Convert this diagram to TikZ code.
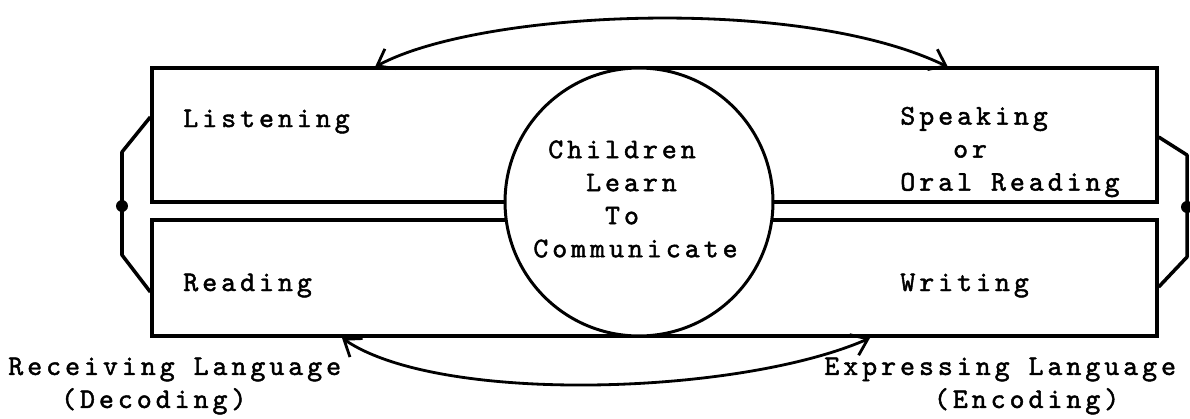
\documentclass[tikz,border=0pt]{standalone}
\usepackage{fontspec}
\usetikzlibrary{arrows.meta,calc}
\newfontfamily\tw[LetterSpace=14,FakeBold=1.6]{lmmono10-regular.otf}
\begin{document}
\begin{tikzpicture}[x=0.02cm,y=-0.02cm,
  boxshape/.style={draw,line width=2pt,minimum width=20.1cm,inner sep=0pt},
  hubshape/.style={draw,circle,line width=1.7pt,fill=white,minimum size=5.36cm,inner sep=0pt},
  lbl/.style={inner sep=0pt,font=\tw\fontsize{16.2}{18.8}\selectfont},
  brk/.style={line width=2pt,line join=round},
  arc/.style={line width=1.6pt,{Straight Barb[length=0.3cm,width=0.45cm]}-{Straight Barb[length=0.3cm,width=0.45cm]}},
  dotmark/.style={circle,fill=black,inner sep=0pt,minimum size=0.24cm}]
\useasboundingbox (0,0) rectangle (1190,419);
\fill[white] (0,0) rectangle (1190,419);
% boxes
\node[boxshape,minimum height=2.68cm] (boxtop) at (654.5,135) {};
\node[boxshape,minimum height=2.32cm] (boxbot) at (654.5,278) {};
% central circle
\node[hubshape] (hub) at (639,202) {};
% left bracket
\coordinate (lt) at ($(boxtop.west)+(0,-18)$);
\coordinate (lb) at ($(boxbot.west)+(0,14)$);
\node[dotmark] (ldot) at (122,206) {};
\draw[brk] (lt) -- (122,152) -- (ldot.center) -- (122,255) -- (lb);
% right bracket
\coordinate (rt) at ($(boxtop.east)+(0,2)$);
\coordinate (rb) at ($(boxbot.east)+(0,9)$);
\node[dotmark] (rdot) at (1187,207) {};
\draw[brk] (rt) -- (1187,155) -- (rdot.center) -- (1187,257) -- (rb);
% arrows
\coordinate (ta) at (375,67);
\coordinate (tb) at (948,67);
\draw[arc] (ta) .. controls (480,10) and (800,-5) .. (tb);
\coordinate (ba) at (342,338);
\coordinate (bb) at (870,338);
\draw[arc] (ba) .. controls (440,405) and (740,395) .. (bb);
% texts
\node[lbl,anchor=base west] (listen) at (183,127) {Listening};
\node[lbl,anchor=west,align=left] (speak) at (900,152) {Speaking\\\phantom{Spe}or\\Oral Reading};
\node[lbl,anchor=west,align=left] (hubtext) at (533,199) {\phantom{C}Children\\\phantom{Com}Learn\\\phantom{Comm}To\\Communicate};
\node[lbl,anchor=base west] (read) at (183,291) {Reading};
\node[lbl,anchor=base west] (write) at (900,291) {Writing};
\node[lbl,anchor=west,align=left] (recv) at (8,386) {Receiving Language\\\phantom{Rec}(Decoding)};
\node[lbl,anchor=west,align=left] (expr) at (824,386) {Expressing Language\\\phantom{Expres}(Encoding)};
\end{tikzpicture}
\end{document}
